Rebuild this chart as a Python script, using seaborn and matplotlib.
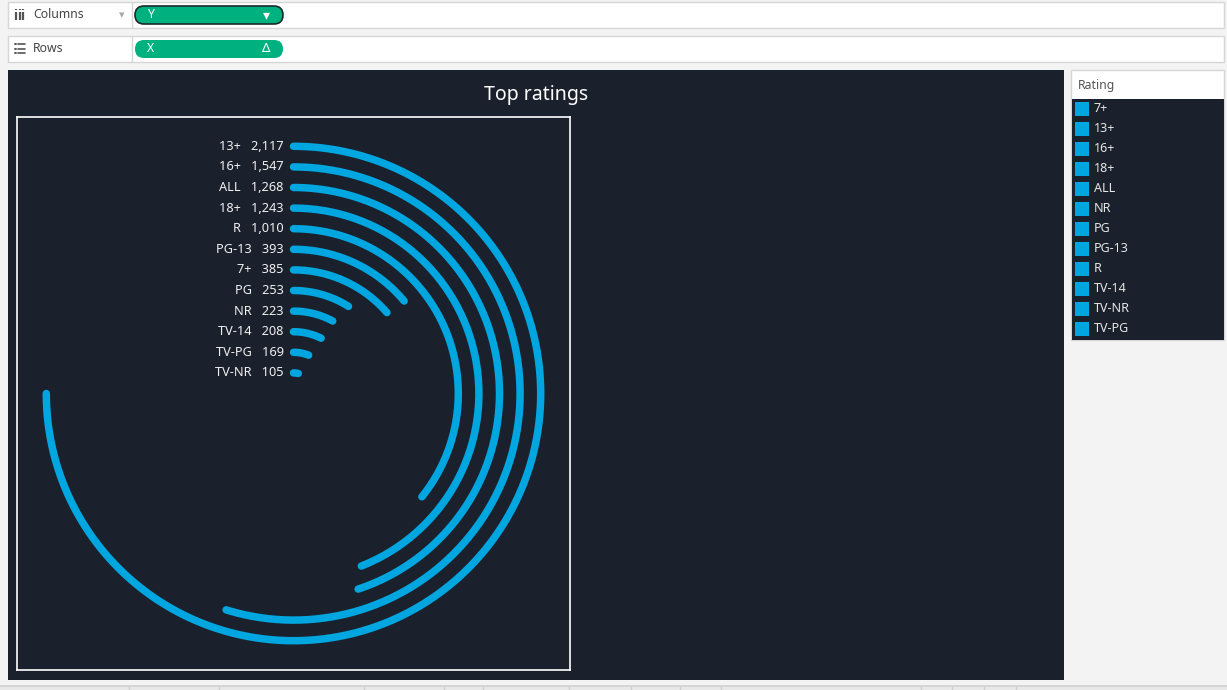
import numpy as np
import pandas as pd
import matplotlib
matplotlib.use("Agg")
import matplotlib.pyplot as plt
from matplotlib.patches import Rectangle, FancyBboxPatch
import seaborn as sns

# ratings, sorted by count (outer ring first)
ratings = ["13+", "16+", "ALL", "18+", "R", "PG-13", "7+", "PG", "NR", "TV-14", "TV-PG", "TV-NR"]
counts = [2117, 1547, 1268, 1243, 1010, 393, 385, 253, 223, 208, 169, 105]
legend_order = ["7+", "13+", "16+", "18+", "ALL", "NR", "PG", "PG-13", "R", "TV-14", "TV-NR", "TV-PG"]

BLUE = "#00a6df"
DARK = "#1b212c"
BG = "#f3f3f3"

sns.set_theme(style="dark")
plt.rcParams["font.family"] = ["Noto Sans", "DejaVu Sans"]

fig = plt.figure(figsize=(12.27, 6.9), dpi=100, facecolor=BG)

# ---- UI chrome in pixel coordinates ----
ui = fig.add_axes([0, 0, 1, 1], zorder=0)
ui.set_xlim(0, 1227)
ui.set_ylim(690, 0)
ui.axis("off")
ui.set_facecolor(BG)

def box(x0, y0, x1, y1, fc, ec="none", lw=1):
    ui.add_patch(Rectangle((x0, y0), x1 - x0, y1 - y0, facecolor=fc, edgecolor=ec, linewidth=lw))

# shelves
for y0, y1, name in [(2, 28, "Columns"), (36, 62, "Rows")]:
    box(8, y0, 1224, y1, "white", "#d6d6d6")
    ui.plot([132, 132], [y0, y1], color="#d6d6d6", lw=1)
    ui.text(33, (y0 + y1) / 2, name, fontsize=8.8, color="#444444", va="center", ha="left")
for xx in [16, 19.5, 23]:
    ui.plot([xx, xx], [12, 20], color="#555555", lw=1.6, solid_capstyle="butt")
    ui.plot([xx, xx], [8.5, 10], color="#555555", lw=1.6, solid_capstyle="butt")
ui.text(122, 16, "▾", fontsize=8, color="#aaaaaa", va="center", ha="center")
for yy in [44, 48.5, 53]:
    ui.plot([14.5, 15.5], [yy, yy], color="#555555", lw=1.4)
    ui.plot([17.5, 25], [yy, yy], color="#555555", lw=1.2)

ui.add_patch(FancyBboxPatch((135, 6), 148, 18, boxstyle="round,pad=0,rounding_size=9",
                            facecolor="#00b180", edgecolor="#1e2a2a", linewidth=1.2))
ui.text(147, 15, "Y", fontsize=8.8, color="white", va="center")
ui.text(266, 15.5, "▾", fontsize=10, color="white", va="center", ha="center")
ui.add_patch(FancyBboxPatch((135, 40), 148, 18, boxstyle="round,pad=0,rounding_size=9",
                            facecolor="#00b180", edgecolor="none"))
ui.text(147, 49, "X", fontsize=8.8, color="white", va="center")
ui.text(266, 48.5, "Δ", fontsize=9.5, color="white", va="center", ha="center")

# main dark panel
box(8, 70, 1064, 680, DARK)
ui.text(536, 95, "Top ratings", fontsize=14, color="white", ha="center", va="center",
        fontweight="semibold")

# legend panel
box(1071, 70, 1224, 340, "white", "#d6d6d6")
box(1072, 99, 1224, 340, DARK)
ui.text(1078, 85, "Rating", fontsize=8.8, color="#555555", va="center")
for i, lab in enumerate(legend_order):
    yy = 109 + 20 * i
    box(1075, yy - 7, 1089, yy + 7, BLUE)
    ui.text(1094, yy, lab, fontsize=9, color="#e6e6e6", va="center")

# bottom status strip
box(0, 686, 1227, 690, "#e8e8e8")
ui.plot([0, 1227], [686, 686], color="#cfcfcf", lw=1.2)
for xs in [129, 219, 364, 444, 483, 569, 631, 680, 721, 921, 952, 984, 1016]:
    ui.plot([xs, xs], [687, 690], color="#cfcfcf", lw=1)

# ---- radial bar chart ----
ring_gap = 20.6
half = 276.5 / ring_gap
ax = fig.add_axes([17 / 1227, 1 - 670 / 690, 553 / 1227, 553 / 690], zorder=2)
ax.set_facecolor("none")
ax.set_xlim(-half, half)
ax.set_ylim(-half, half)

max_count = max(counts)
rows = []
for k, (lab, val) in enumerate(zip(ratings, counts)):
    radius = len(ratings) - k
    theta = np.linspace(0, np.deg2rad(val / max_count * 270), 200)
    for t in theta:
        rows.append({"rating": lab, "x": radius * np.sin(t), "y": radius * np.cos(t)})
df = pd.DataFrame(rows)

sns.lineplot(data=df, x="x", y="y", hue="rating", palette={r: BLUE for r in ratings},
             sort=False, estimator=None, legend=False, linewidth=5.4,
             solid_capstyle="round", ax=ax)

for k, (lab, val) in enumerate(zip(ratings, counts)):
    radius = len(ratings) - k
    ax.text(-10 / ring_gap, radius, f"{lab}   {val:,}", color="#f0f0f0", fontsize=9.2,
            ha="right", va="center")

ax.set_xticks([])
ax.set_yticks([])
ax.set_xlabel("")
ax.set_ylabel("")
for s in ax.spines.values():
    s.set_visible(True)
    s.set_color("white")
    s.set_linewidth(1.2)

fig.savefig("out.png", dpi=100, facecolor=BG)
